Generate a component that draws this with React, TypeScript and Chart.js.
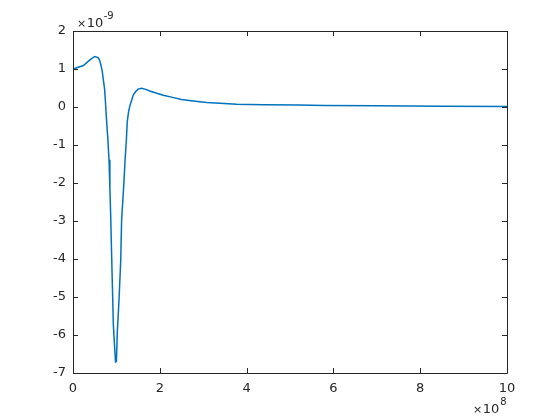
import React, { useEffect, useRef } from "react";
import { Chart, registerables } from "chart.js";

Chart.register(...registerables);

// x values in units of 1e8, y values in units of 1e-9
const xVals = [0, 0.1, 0.24, 0.39, 0.5, 0.58, 0.62, 0.67, 0.73, 0.78, 0.8, 0.83, 0.85, 0.87, 0.89, 0.91, 0.93, 0.96, 0.98, 1.0, 1.02, 1.06, 1.1, 1.12, 1.17, 1.2, 1.23, 1.25, 1.28, 1.31, 1.35, 1.39, 1.44, 1.5, 1.58, 1.66, 1.77, 1.93, 2.08, 2.27, 2.5, 2.77, 3.08, 3.39, 3.77, 4.4, 5.2, 5.8, 7.0, 8.5, 10];
const yVals = [1.0, 1.04, 1.09, 1.24, 1.33, 1.3, 1.21, 0.97, 0.45, -0.47, -0.79, -1.39, -2.13, -2.92, -3.89, -4.82, -5.74, -6.34, -6.71, -6.7, -5.95, -5.08, -4.03, -2.97, -2.05, -1.39, -0.87, -0.39, -0.13, 0.03, 0.17, 0.32, 0.4, 0.47, 0.49, 0.47, 0.42, 0.36, 0.31, 0.26, 0.2, 0.16, 0.12, 0.1, 0.07, 0.06, 0.05, 0.04, 0.03, 0.02, 0.01];
const xTicks = [0, 2, 4, 6, 8, 10];
const yTicks = [-7, -6, -5, -4, -3, -2, -1, 0, 1, 2];
const xExponent = "8";
const yExponent = "-9";

const AXIS = "#262626";
const FONT = "DejaVu Sans";

const matlabAxes = {
  id: "matlabAxes",
  afterDraw(chart: any) {
    const { ctx, chartArea } = chart;
    const { left, right, top, bottom } = chartArea;
    const xs = chart.scales.x;
    const ys = chart.scales.y;
    ctx.save();
    ctx.strokeStyle = AXIS;
    ctx.lineWidth = 1;
    ctx.beginPath();
    ctx.rect(Math.round(left) + 0.5, Math.round(top) + 0.5, Math.round(right - left), Math.round(bottom - top));
    ctx.stroke();
    const tl = 5;
    ctx.beginPath();
    xTicks.forEach((v) => {
      const px = Math.round(xs.getPixelForValue(v)) + 0.5;
      ctx.moveTo(px, bottom);
      ctx.lineTo(px, bottom - tl);
      ctx.moveTo(px, top);
      ctx.lineTo(px, top + tl);
    });
    yTicks.forEach((v) => {
      const py = Math.round(ys.getPixelForValue(v)) + 0.5;
      ctx.moveTo(left, py);
      ctx.lineTo(left + tl, py);
      ctx.moveTo(right, py);
      ctx.lineTo(right - tl, py);
    });
    ctx.stroke();

    // exponent labels
    ctx.fillStyle = AXIS;
    ctx.textBaseline = "alphabetic";
    ctx.textAlign = "left";
    // y exponent (top-left)
    let x0 = left + 4;
    let base = top - 4;
    ctx.font = `11px ${FONT}`;
    ctx.fillText("×", x0, base);
    x0 += ctx.measureText("×").width + 0.5;
    ctx.font = `13px ${FONT}`;
    ctx.fillText("10", x0, base);
    x0 += ctx.measureText("10").width + 0.5;
    ctx.font = `10px ${FONT}`;
    ctx.fillText(yExponent, x0, base - 8);
    // x exponent (bottom-right)
    x0 = right - 34;
    base = bottom + 40;
    ctx.font = `11px ${FONT}`;
    ctx.fillText("×", x0, base);
    x0 += ctx.measureText("×").width + 0.5;
    ctx.font = `13px ${FONT}`;
    ctx.fillText("10", x0, base);
    x0 += ctx.measureText("10").width + 1;
    ctx.font = `10px ${FONT}`;
    ctx.fillText(xExponent, x0, base - 8);
    ctx.restore();
  },
};

export default function App() {
  const ref = useRef<HTMLCanvasElement>(null);
  useEffect(() => {
    if (!ref.current) return;
    const data = xVals.map((x, i) => ({ x, y: yVals[i] }));
    const chart = new Chart(ref.current, {
      type: "line",
      data: {
        datasets: [
          {
            data,
            borderColor: "#0072BD",
            borderWidth: 1.5,
            pointRadius: 0,
            tension: 0,
            fill: false,
          },
        ],
      },
      options: {
        responsive: false,
        animation: false,
        events: [],
        layout: { padding: { top: 31, right: 53, left: 0, bottom: 0 } },
        plugins: { legend: { display: false }, tooltip: { enabled: false } },
        scales: {
          x: {
            type: "linear",
            min: 0,
            max: 10,
            grid: { display: false, drawTicks: false },
            border: { display: false },
            afterBuildTicks: (s: any) => {
              s.ticks = xTicks.map((v) => ({ value: v }));
            },
            afterFit: (s: any) => {
              s.height = 47;
            },
            ticks: {
              color: AXIS,
              font: { family: FONT, size: 13 },
              padding: 8,
              maxRotation: 0,
              autoSkip: false,
            },
          },
          y: {
            type: "linear",
            min: -7,
            max: 2,
            grid: { display: false, drawTicks: false },
            border: { display: false },
            afterBuildTicks: (s: any) => {
              s.ticks = yTicks.map((v) => ({ value: v }));
            },
            afterFit: (s: any) => {
              s.width = 73;
            },
            ticks: {
              color: AXIS,
              font: { family: FONT, size: 13 },
              padding: 7,
              autoSkip: false,
            },
          },
        },
      },
      plugins: [matlabAxes],
    });
    return () => chart.destroy();
  }, []);
  return (
    <canvas
      ref={ref}
      width={560}
      height={420}
      style={{ position: "fixed", left: 0, top: 0, width: 560, height: 420, background: "#fff" }}
    />
  );
}
